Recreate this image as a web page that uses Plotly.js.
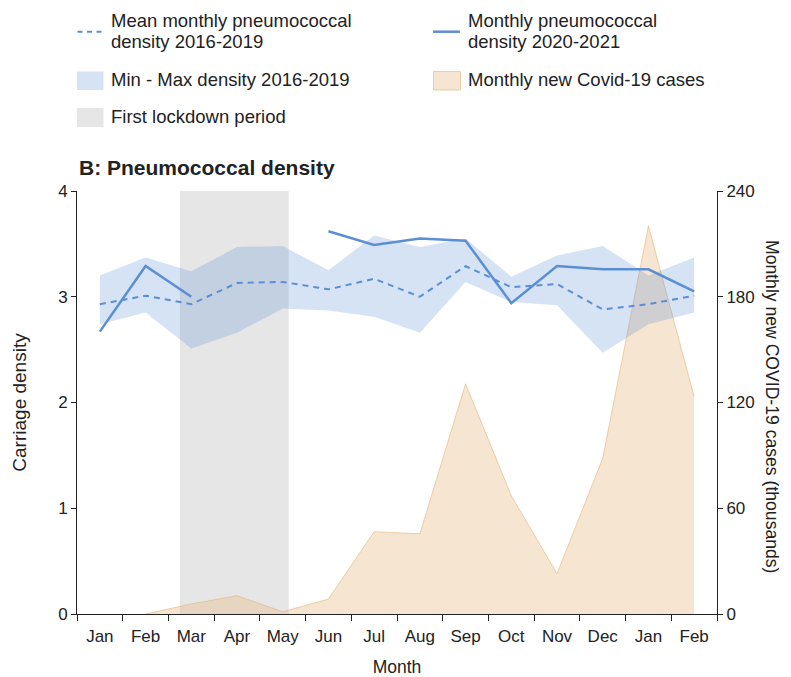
<!DOCTYPE html>
<html><head><meta charset="utf-8">
<script src="https://cdn.plot.ly/plotly-3.0.1.min.js"></script>
<style>html,body{margin:0;padding:0;background:#fff}#chart{width:791px;height:677px}</style>
</head><body><div id="chart"></div>
<script>
// ---- data ----
const months = ['Jan','Feb','Mar','Apr','May','Jun','Jul','Aug','Sep','Oct','Nov','Dec','Jan','Feb'];
const density2020 = [2.67,3.29,3.00,null,null,3.62,3.49,3.55,3.53,2.94,3.29,3.26,3.26,3.05];
const meanDensity = [2.93,3.01,2.93,3.13,3.14,3.07,3.17,3.00,3.29,3.09,3.12,2.88,2.93,3.01];
const maxDensity  = [3.20,3.37,3.24,3.47,3.48,3.25,3.58,3.47,3.55,3.19,3.39,3.48,3.20,3.37];
const minDensity  = [2.74,2.85,2.51,2.66,2.89,2.87,2.81,2.66,3.14,2.95,2.92,2.47,2.74,2.85];
const covidCases  = [null,0,5.7,10.4,1.3,8.5,46.7,45.5,130.6,67.1,22.9,88.3,220.2,123.4];
const lockdownPeriod = [1.75, 4.13];
const densityTicks = [0,1,2,3,4];
const caseTicks = [0,60,120,180,240];

// ---- styles ----
const FONT = 'Liberation Sans, Arial, Helvetica, sans-serif';
const TXT = '#222222';
const BLUE = 'rgb(91,143,212)';
const BAND = 'rgba(91,143,212,0.25)';
const TAN = 'rgba(230,180,120,0.35)';
const TANLINE = 'rgba(230,180,120,0.6)';
const GREY = '#e6e6e6';

const idx = months.map((m, i) => i);
const bounds = months.map((m, i) => i - 0.5).concat([months.length - 0.5]);

// plot area in pixels: l=77, r=717, t=191, b=614
const L = 77, R = 717, T = 191, B = 614;
const PX = p => (p - L) / (R - L);
const PY = p => (B - p) / (B - T);

const traces = [
  {x: idx, y: covidCases, xaxis: 'x', yaxis: 'y', mode: 'lines', fill: 'tozeroy',
   fillcolor: TAN, line: {color: TANLINE, width: 1}, connectgaps: false,
   name: 'Monthly new Covid-19 cases', showlegend: false, hoverinfo: 'skip'},
  {x: idx, y: minDensity, xaxis: 'x', yaxis: 'y2', mode: 'lines',
   line: {color: 'rgba(0,0,0,0)', width: 0}, showlegend: false, hoverinfo: 'skip', name: 'Min density'},
  {x: idx, y: maxDensity, xaxis: 'x', yaxis: 'y2', mode: 'lines', fill: 'tonexty',
   fillcolor: BAND, line: {color: 'rgba(0,0,0,0)', width: 0}, showlegend: false, hoverinfo: 'skip',
   name: 'Min - Max density 2016-2019'},
  {x: idx, y: meanDensity, xaxis: 'x', yaxis: 'y2', mode: 'lines',
   line: {color: BLUE, width: 2, dash: '6px,5px'}, showlegend: false,
   name: 'Mean monthly pneumococcal density 2016-2019'},
  {x: idx, y: density2020, xaxis: 'x', yaxis: 'y2', mode: 'lines', connectgaps: false,
   line: {color: BLUE, width: 2.5}, showlegend: false,
   name: 'Monthly pneumococcal density 2020-2021'}
];

const shapes = [
  {type: 'rect', xref: 'x', yref: 'paper', x0: lockdownPeriod[0], x1: lockdownPeriod[1], y0: 0, y1: 1,
   fillcolor: GREY, line: {width: 0}, layer: 'below'},
  // manual legend icons
  {type: 'line', xref: 'paper', yref: 'paper', x0: PX(77.5), x1: PX(104), y0: PY(31.7), y1: PY(31.7),
   line: {color: BLUE, width: 2, dash: '5px,4.5px'}},
  {type: 'line', xref: 'paper', yref: 'paper', x0: PX(433), x1: PX(460), y0: PY(31.7), y1: PY(31.7),
   line: {color: BLUE, width: 2.5}},
  {type: 'rect', xref: 'paper', yref: 'paper', x0: PX(77), x1: PX(103.5), y0: PY(90), y1: PY(71.5),
   fillcolor: BAND, line: {width: 0}},
  {type: 'rect', xref: 'paper', yref: 'paper', x0: PX(433.5), x1: PX(460.5), y0: PY(90), y1: PY(71.5),
   fillcolor: TAN, line: {color: TANLINE, width: 1}},
  {type: 'rect', xref: 'paper', yref: 'paper', x0: PX(77), x1: PX(103.5), y0: PY(127), y1: PY(108),
   fillcolor: GREY, line: {width: 0}}
];

const legendFont = {family: FONT, size: 18.5, color: TXT};
const leg = (text, px, py) => ({text: text, xref: 'paper', yref: 'paper', x: PX(px), y: PY(py),
  xanchor: 'left', yanchor: 'middle', showarrow: false, font: legendFont, borderpad: 0});

const annotations = [
  leg('Mean monthly pneumococcal', 110, 20),
  leg('density 2016-2019', 110, 41.7),
  leg('Monthly pneumococcal', 467, 20),
  leg('density 2020-2021', 467, 41.7),
  leg('Min - Max density 2016-2019', 110, 80),
  leg('Monthly new Covid-19 cases', 467, 80),
  leg('First lockdown period', 110, 117),
  {text: 'Monthly new COVID-19 cases (thousands)', xref: 'paper', yref: 'paper',
   x: PX(772.5), y: PY(406.5), xanchor: 'center', yanchor: 'middle', textangle: 90,
   showarrow: false, font: {family: FONT, size: 17.6, color: TXT}}
];

const layout = {
  width: 791, height: 677,
  margin: {l: L, r: 791 - R, t: T, b: 677 - B, pad: 0},
  paper_bgcolor: '#ffffff', plot_bgcolor: 'rgba(0,0,0,0)',
  font: {family: FONT, color: TXT, size: 17},
  showlegend: false,
  title: {text: '<b>B: Pneumococcal density</b>', font: {family: FONT, size: 21, color: TXT},
          x: 79 / 791, xref: 'container', xanchor: 'left',
          y: 1 - 168 / 677, yref: 'container', yanchor: 'middle'},
  xaxis: {range: [-0.5, months.length - 0.5], tickmode: 'array', tickvals: idx, ticktext: months,
          ticks: 'outside', ticklen: 7, tickcolor: 'rgba(0,0,0,0)',
          minor: {tickmode: 'array', tickvals: bounds, ticks: 'outside', ticklen: 6, tickwidth: 1, tickcolor: TXT, showgrid: false},
          showline: true, linecolor: TXT, linewidth: 1, showgrid: false, zeroline: false,
          tickfont: {family: FONT, size: 17, color: TXT},
          title: {text: 'Month', font: {family: FONT, size: 17.5, color: TXT}, standoff: 17},
          fixedrange: true},
  yaxis: {range: [0, 240], tickmode: 'array', tickvals: caseTicks, side: 'right',
          ticks: 'outside', ticklen: 5, tickcolor: TXT, showline: true, linecolor: TXT, linewidth: 1,
          showgrid: false, zeroline: false, tickfont: {family: FONT, size: 17, color: TXT}, fixedrange: true},
  yaxis2: {range: [0, 4], tickmode: 'array', tickvals: densityTicks, side: 'left', overlaying: 'y',
           ticks: 'outside', ticklen: 5, tickcolor: TXT, showline: true, linecolor: TXT, linewidth: 1,
           showgrid: false, zeroline: false, tickfont: {family: FONT, size: 17, color: TXT},
           title: {text: 'Carriage density', font: {family: FONT, size: 19, color: TXT}, standoff: 26},
           fixedrange: true},
  shapes: shapes,
  annotations: annotations
};

Plotly.newPlot('chart', traces, layout, {displayModeBar: false, staticPlot: true});
</script>
</body></html>
